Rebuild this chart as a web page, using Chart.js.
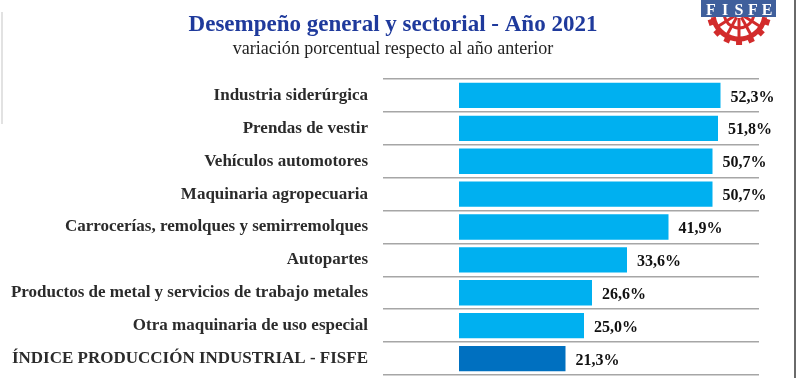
<!DOCTYPE html>
<html>
<head>
<meta charset="utf-8">
<script src="https://cdn.jsdelivr.net/npm/chart.js@4.4.1/dist/chart.umd.min.js"></script>
<style>
html,body{margin:0;padding:0;background:#fff;}
#wrap{position:relative;width:797px;height:378px;}
</style>
</head>
<body>
<div id="wrap"><canvas id="c" width="797" height="378"></canvas></div>
<script>
const categories = [
  "Industria siderúrgica",
  "Prendas de vestir",
  "Vehículos automotores",
  "Maquinaria agropecuaria",
  "Carrocerías, remolques y semirremolques",
  "Autopartes",
  "Productos de metal y servicios de trabajo metales",
  "Otra maquinaria de uso especial",
  "ÍNDICE PRODUCCIÓN INDUSTRIAL - FISFE"
];
const values = [52.3, 51.8, 50.7, 50.7, 41.9, 33.6, 26.6, 25.0, 21.3];
const valueLabels = ["52,3%", "51,8%", "50,7%", "50,7%", "41,9%", "33,6%", "26,6%", "25,0%", "21,3%"];
const titleText = "Desempeño general y sectorial - Año 2021";
const subtitleText = "variación porcentual respecto al año anterior";

const barColors = values.map((v, i) => i === values.length - 1 ? "#0070C0" : "#00B0F0");
const SERIF = "'Liberation Serif', 'Times New Roman', serif";

const decorPlugin = {
  id: 'decor',
  afterDraw(chart) {
    const ctx = chart.ctx;
    ctx.save();
    // titles
    ctx.textAlign = 'center';
    ctx.textBaseline = 'alphabetic';
    ctx.fillStyle = '#1f3a9c';
    ctx.font = "bold 23px " + SERIF;
    ctx.fillText(titleText, 393, 31);
    ctx.fillStyle = '#222';
    ctx.font = "18px " + SERIF;
    ctx.fillText(subtitleText, 393, 54);
    // value labels
    const meta = chart.getDatasetMeta(0);
    ctx.font = "bold 16px " + SERIF;
    ctx.fillStyle = '#111';
    ctx.textAlign = 'left';
    ctx.textBaseline = 'middle';
    meta.data.forEach((bar, i) => {
      ctx.fillText(valueLabels[i], bar.x + 10, bar.y + 2);
    });
    // right border
    ctx.strokeStyle = '#6a6a6a';
    ctx.lineWidth = 2;
    ctx.beginPath(); ctx.moveTo(795, 0); ctx.lineTo(795, 378); ctx.stroke();
    // faint left line
    ctx.strokeStyle = '#d8d8d8';
    ctx.lineWidth = 1.5;
    ctx.beginPath(); ctx.moveTo(2, 12); ctx.lineTo(2, 124); ctx.stroke();
    // logo: half gear wheel
    const cx = 739, cy = 13;
    ctx.strokeStyle = '#d22b2b';
    ctx.fillStyle = '#d22b2b';
    ctx.lineWidth = 5;
    ctx.beginPath(); ctx.arc(cx, cy, 26, 0.05 * Math.PI, 0.95 * Math.PI); ctx.stroke();
    ctx.lineWidth = 3;
    ctx.beginPath(); ctx.arc(cx, cy, 15, 0.08 * Math.PI, 0.92 * Math.PI); ctx.stroke();
    ctx.lineWidth = 3;
    for (let k = 0; k < 5; k++) {
      const a = (0.18 + k * 0.16) * Math.PI;
      ctx.beginPath();
      ctx.moveTo(cx + Math.cos(a) * 5, cy + Math.sin(a) * 5);
      ctx.lineTo(cx + Math.cos(a) * 27, cy + Math.sin(a) * 27);
      ctx.stroke();
    }
    for (let k = 0; k < 7; k++) {
      const a = (0.1 + k * 0.133) * Math.PI;
      ctx.save();
      ctx.translate(cx + Math.cos(a) * 29, cy + Math.sin(a) * 29);
      ctx.rotate(a);
      ctx.fillRect(-3, -3, 6, 6);
      ctx.restore();
    }
    ctx.fillStyle = '#3f5f9c';
    ctx.fillRect(701, 0, 75, 17);
    ctx.fillStyle = '#ffffff';
    ctx.font = "bold 16px " + SERIF;
    ctx.textAlign = 'center';
    ctx.textBaseline = 'alphabetic';
    const letters = "FISFE";
    for (let k = 0; k < letters.length; k++) {
      ctx.fillText(letters[k], 711 + k * 14, 15);
    }
    ctx.restore();
  }
};

new Chart(document.getElementById('c'), {
  type: 'bar',
  data: {
    labels: categories,
    datasets: [{
      data: values,
      backgroundColor: barColors,
      borderWidth: 0,
      barPercentage: 0.77,
      categoryPercentage: 1.0
    }]
  },
  options: {
    indexAxis: 'y',
    responsive: false,
    animation: false,
    devicePixelRatio: 1,
    layout: { padding: { top: 79, right: 38, bottom: 3, left: 0 } },
    plugins: {
      legend: { display: false },
      tooltip: { enabled: false },
      title: { display: false }
    },
    scales: {
      x: {
        display: false,
        min: -15.2,
        max: 60
      },
      y: {
        afterFit(scale) {
          scale.width = 383;
          scale.paddingTop = 0;
          scale.paddingBottom = 0;
        },
        border: { display: false },
        grid: {
          offset: true,
          drawTicks: false,
          color: '#a6a6a6',
          lineWidth: 1.5
        },
        ticks: {
          padding: 15,
          color: '#2b2b2b',
          font: { family: SERIF, size: 17, weight: 'bold' }
        }
      }
    }
  },
  plugins: [decorPlugin]
});
</script>
</body>
</html>
